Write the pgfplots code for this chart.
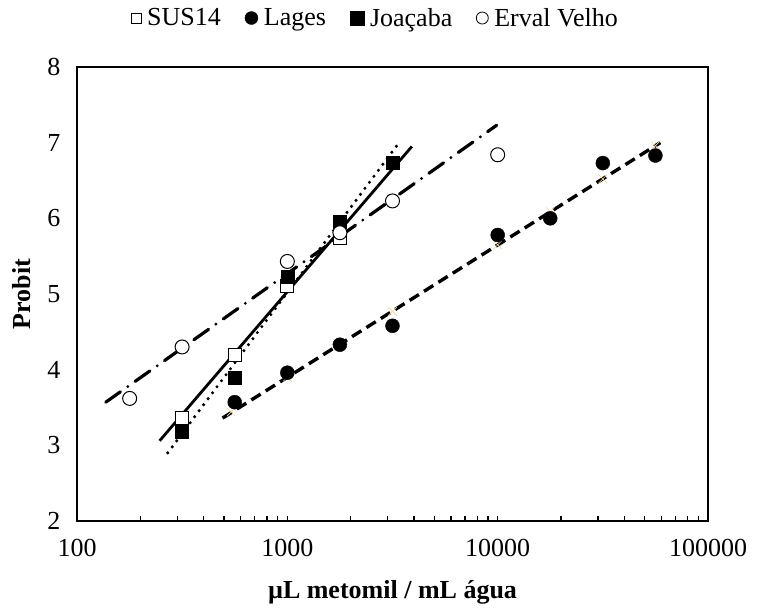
\documentclass[border=0pt]{standalone}
\usepackage{pgfplots}
\pgfplotsset{compat=1.18}
\usepackage{fontspec}
\setmainfont{Liberation Serif}
\definecolor{crossc}{RGB}{245,215,160}

\begin{document}
\begin{tikzpicture}
\begin{axis}[
    name=ax,
    scale only axis,
    width=631pt, height=454pt,
    xmode=log,
    xmin=100, xmax=100000,
    ymin=2, ymax=8,
    xtick={100,1000,10000,100000},
    ytick={2,3,4,5,6,7,8},
    log ticks with fixed point,
    /pgf/number format/1000 sep={},
    /pgf/number format/assume math mode=true,
    tick label style={font=\fontsize{26}{30}\selectfont},
    xticklabel style={yshift=-15pt},
    yticklabel style={xshift=-13pt},
    axis line style={line width=1.6pt},
    tick align=inside,
    xtick pos=bottom,
    ytick style={draw=none},
    xtick style={black, line width=1.2pt},
    major tick length=5pt, minor tick length=5pt,
    xlabel={\textbf{µL metomil / mL água}},
    ylabel={\textbf{Probit}},
    label style={font=\fontsize{26}{30}\selectfont},
    xlabel style={yshift=-16pt},
    ylabel style={yshift=10pt},
    legend style={draw=none, at={(0.5,1)}, anchor=south, yshift=37pt, xshift=-17pt,
        legend columns=4, font=\fontsize{26}{30}\selectfont,
        /tikz/every odd column/.append style={column sep=4pt},
        /tikz/every even column/.append style={column sep=22pt},
        legend image code/.code={\draw[#1] plot coordinates {(0pt,0pt)};},
        inner sep=0pt},
    clip=false,
]
% trend lines
\addplot[forget plot, black, line width=2.8pt] coordinates {(247,3.06) (3909,6.95)};
\addplot[forget plot, black, line width=3.4pt, line cap=round, dash pattern=on 0pt off 7.5pt] coordinates {(270,2.90) (3396,7.00)};
\addplot[forget plot, black, line width=3.2pt, line cap=round, dash pattern=on 18pt off 9pt on 0pt off 9pt] coordinates {(137,3.57) (9890,7.23)};
\addplot[forget plot, black, line width=3.4pt, dash pattern=on 11pt off 6pt] coordinates {(492,3.36) (59300,7.00)};
% faint estimate marks on the Lages line
\addplot[forget plot, only marks, mark=x, mark size=6pt, mark options={draw=crossc, line width=0.6pt}] coordinates {
    (540,3.44) (1000,3.90) (3162,4.77) (10000,5.65) (17783,6.09) (31623,6.52) (56234,6.96)};
% SUS14
\addplot[forget plot, only marks, mark=square*, mark size=6.5pt, mark options={fill=white, draw=black, line width=1pt}] coordinates {
    (316,3.36) (562,4.19) (1000,5.11) (1778,5.74)};
% Lages
\addplot[forget plot, only marks, mark=*, mark size=7pt, mark options={fill=black, draw=black}] coordinates {
    (562,3.57) (1000,3.96) (1778,4.33) (3162,4.58) (10000,5.78) (17783,6.00) (31623,6.73) (56234,6.83)};
% Joacaba
\addplot[forget plot, only marks, mark=square*, mark size=6.5pt, mark options={fill=black, draw=black}] coordinates {
    (316,3.18) (562,3.90) (1000,5.23) (1778,5.95) (3162,6.73)};
% Erval Velho
\addplot[forget plot, only marks, mark=*, mark size=7pt, mark options={fill=white, draw=black, line width=1pt}] coordinates {
    (178,3.62) (316,4.30) (1000,5.43) (1778,5.81) (3162,6.23) (10000,6.84)};
\addlegendimage{only marks, mark=square*, mark size=5pt, mark options={fill=white, draw=black, line width=0.8pt}}
\addlegendentry{SUS14}
\addlegendimage{only marks, mark=*, mark size=6.5pt, mark options={fill=black}}
\addlegendentry{Lages}
\addlegendimage{only marks, mark=square*, mark size=7pt, mark options={fill=black}}
\addlegendentry{Joaçaba}
\addlegendimage{only marks, mark=*, mark size=6pt, mark options={fill=white, draw=black, line width=0.8pt}}
\addlegendentry{Erval Velho}
\end{axis}
\path ([shift={(-77pt,-87pt)}]ax.south west) rectangle ([shift={(49pt,67pt)}]ax.north east);
\end{tikzpicture}
\end{document}
